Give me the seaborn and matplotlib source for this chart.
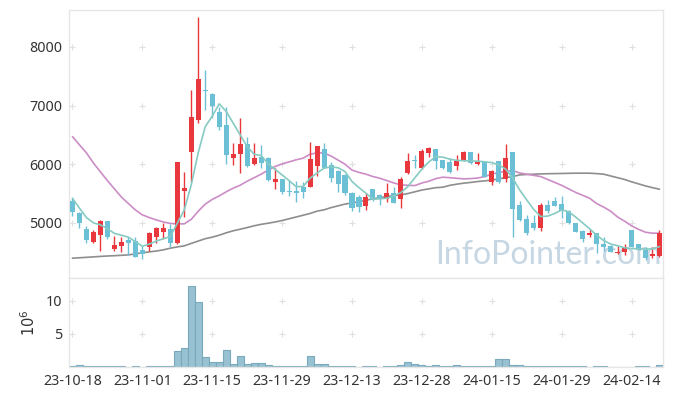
import numpy as np
import pandas as pd
import seaborn as sns
import matplotlib.pyplot as plt

# daily candles, 23-10-18 .. 24-02-20 (85 trading days)
opens = [5375, 5176, 4898, 4680, 4800, 5034, 4557, 4613, 4716, 4693,
         4534, 4596, 4767, 4852, 4892, 4654, 5551, 6216, 6756, 7262,
         7199, 6893, 6671, 6114, 6171, 6342, 6006, 6131, 6108, 5704,
         5750, 5540, 5545, 5619, 5619, 5977, 6262, 5989, 5887, 5818,
         5517, 5438, 5295, 5574, 5477, 5404, 5506, 5404, 5847, 6057,
         5932, 6199, 6256, 6074, 6035, 5977, 6062, 6211, 6006, 6040,
         5690, 6052, 5750, 6211, 5307, 5068, 4994, 4909, 5307, 5375,
         5324, 5210, 4994, 4864, 4790, 4824, 4647, 4608, 4483, 4500,
         4881, 4637, 4540, 4443, 4443]
highs = [5425, 5193, 4950, 4870, 5046, 5040, 4784, 4767, 4761, 4767,
         4608, 4847, 4937, 4994, 4983, 6040, 5875, 7268, 8507, 7609,
         7210, 6983, 6972, 6359, 6785, 6461, 6359, 6325, 6120, 5932,
         5755, 5733, 5716, 5705, 6376, 6313, 6370, 6045, 5900, 5830,
         5520, 5477, 5506, 5580, 5500, 5677, 5619, 5790, 6199, 6160,
         6262, 6290, 6260, 6080, 6114, 6159, 6220, 6215, 6188, 6045,
         5904, 6055, 6347, 6215, 5375, 5136, 5136, 5346, 5392, 5448,
         5465, 5215, 5000, 4875, 4892, 4830, 4756, 4615, 4600, 4642,
         4885, 4640, 4596, 4596, 4870]
lows = [5120, 4915, 4654, 4659, 4523, 4727, 4523, 4500, 4454, 4410,
        4386, 4523, 4654, 4722, 4596, 4640, 5108, 5705, 6710, 6927,
        6785, 6586, 6006, 5989, 5858, 5960, 5989, 5932, 5720, 5574,
        5500, 5460, 5358, 5421, 5610, 5807, 5930, 5705, 5534, 5470,
        5210, 5193, 5222, 5380, 5307, 5363, 5340, 5250, 5840, 5932,
        5920, 6131, 5915, 5920, 5847, 5904, 6055, 6006, 5990, 5785,
        5648, 5680, 5705, 4756, 5040, 4796, 4881, 4869, 5165, 5280,
        5080, 4985, 4845, 4681, 4756, 4494, 4528, 4495, 4475, 4454,
        4590, 4535, 4369, 4398, 4426]
closes = [5180, 4995, 4710, 4846, 5034, 4767, 4620, 4676, 4665, 4426,
          4477, 4824, 4909, 4915, 4654, 6035, 5591, 6802, 7450, 7250,
          7000, 6631, 6160, 6176, 6342, 5977, 6108, 6018, 5733, 5750,
          5523, 5528, 5517, 5523, 6086, 6313, 5943, 5773, 5665, 5506,
          5250, 5278, 5438, 5392, 5404, 5506, 5346, 5745, 6052, 6047,
          6228, 6273, 6062, 5932, 5875, 6057, 6211, 6028, 6045, 5790,
          5885, 5700, 6110, 5239, 5051, 4835, 4909, 5307, 5210, 5290,
          5210, 4994, 4852, 4727, 4824, 4637, 4596, 4500, 4511, 4586,
          4596, 4540, 4409, 4466, 4835]

ma5 = [5421, 5250, 5090, 5000, 4966, 4900, 4820, 4790, 4756, 4680,
       4600, 4640, 4690, 4730, 4767, 4994, 5220, 5650, 6200, 6640,
       6820, 7029, 6900, 6700, 6500, 6300, 6170, 6148, 6006, 5910,
       5818, 5720, 5619, 5619, 5762, 5850, 5932, 5955, 5940, 5875,
       5705, 5600, 5506, 5404, 5410, 5421, 5460, 5517, 5619, 5770,
       5915, 6040, 6131, 6120, 6086, 6065, 6060, 6055, 6052, 6040,
       6028, 5990, 5915, 5762, 5560, 5392, 5230, 5108, 5115, 5160,
       5222, 5190, 5100, 5000, 4900, 4790, 4700, 4640, 4610, 4575,
       4562, 4557, 4555, 4555, 4596]
ma20 = [6471, 6330, 6193, 6020, 5870, 5720, 5580, 5440, 5330, 5220,
        5136, 5090, 5050, 5015, 4990, 4983, 4983, 5060, 5200, 5320,
        5400, 5460, 5530, 5591, 5642, 5710, 5770, 5830, 5900, 5960,
        6006, 6040, 6075, 6103, 6170, 6195, 6190, 6140, 6070, 6000,
        5900, 5860, 5830, 5790, 5760, 5720, 5680, 5648, 5640, 5636,
        5680, 5710, 5755, 5779, 5770, 5760, 5750, 5755, 5765, 5790,
        5830, 5860, 5880, 5892, 5850, 5830, 5810, 5790, 5740, 5690,
        5640, 5580, 5520, 5470, 5420, 5330, 5270, 5200, 5100, 5030,
        4950, 4890, 4840, 4824, 4824]
ma60 = [4398, 4405, 4412, 4420, 4428, 4435, 4440, 4447, 4454, 4470,
        4490, 4505, 4520, 4540, 4568, 4590, 4608, 4650, 4690, 4730,
        4756, 4790, 4830, 4865, 4892, 4920, 4950, 4975, 4994, 5015,
        5040, 5070, 5100, 5130, 5160, 5200, 5222, 5260, 5290, 5320,
        5340, 5363, 5385, 5410, 5430, 5450, 5465, 5477, 5500, 5530,
        5560, 5580, 5600, 5608, 5640, 5660, 5677, 5690, 5705, 5716,
        5730, 5750, 5773, 5790, 5818, 5825, 5830, 5835, 5838, 5840,
        5842, 5845, 5847, 5847, 5847, 5840, 5830, 5800, 5770, 5740,
        5700, 5665, 5630, 5600, 5574]

# volume in millions
volume = [0.15, 0.35, 0.12, 0.12, 0.12, 0.12, 0.12, 0.12, 0.02, 0.12,
          0.02, 0.12, 0.12, 0.12, 0.12, 2.45, 2.85, 12.2, 9.75, 1.5,
          0.75, 0.75, 2.55, 0.45, 1.65, 0.45, 0.6, 0.6, 0.27, 0.12,
          0.12, 0.12, 0.12, 0.12, 1.65, 0.45, 0.45, 0.12, 0.12, 0.12,
          0.12, 0.02, 0.12, 0.12, 0.02, 0.12, 0.12, 0.3, 0.8, 0.45,
          0.3, 0.15, 0.3, 0.15, 0.15, 0.3, 0.15, 0.15, 0.15, 0.15,
          0.15, 1.2, 1.2, 0.35, 0.35, 0.12, 0.12, 0.12, 0.12, 0.12,
          0.12, 0.12, 0.12, 0.12, 0.02, 0.12, 0.12, 0.02, 0.02, 0.02,
          0.02, 0.12, 0.12, 0.02, 0.3]

date_ticks = ['23-10-18', '23-11-01', '23-11-15', '23-11-29', '23-12-13',
              '23-12-28', '24-01-15', '24-01-29', '24-02-14']

df = pd.DataFrame({'open': opens, 'high': highs, 'low': lows, 'close': closes,
                   'ma5': ma5, 'ma20': ma20, 'ma60': ma60, 'vol': volume})
df['idx'] = np.arange(len(df))

sns.set_theme(style='white')
plt.rcParams['font.family'] = ['Noto Sans', 'DejaVu Sans']

UP = '#e8383d'
DOWN = '#6cc0d6'
GRID = '#e0e0e0'

fig = plt.figure(figsize=(6.73, 3.96), dpi=100)
ax = fig.add_axes([0.1025, 0.298, 0.8826, 0.6768])
axv = fig.add_axes([0.1025, 0.0732, 0.8826, 0.2248])

# grid as little crosses at tick intersections
xt = list(range(0, 81, 10))
for a, yt in ((ax, [5000, 6000, 7000, 8000]), (axv, [5, 10])):
    gx, gy = np.meshgrid(xt, yt)
    a.plot(gx.ravel(), gy.ravel(), ls='none', marker='+', ms=4.5, mew=0.8,
           color=GRID, zorder=0)

ax.text(0.807, 0.085, 'InfoPointer.com', transform=ax.transAxes, ha='center',
        va='center', fontsize=23, color='#c6d7e3', family='Lato', zorder=0.5)

# moving averages
sns.lineplot(data=df, x='idx', y='ma60', ax=ax, color='#8e8e8e', lw=1.2, zorder=2)
sns.lineplot(data=df, x='idx', y='ma20', ax=ax, color='#cc8cc6', lw=1.2, zorder=2)
sns.lineplot(data=df, x='idx', y='ma5', ax=ax, color='#86cbc3', lw=1.2, zorder=4)

# candles
up = df['close'] >= df['open']
cols = np.where(up, UP, DOWN)
body_lo = np.minimum(df['open'], df['close'])
body_h = np.maximum((df['close'] - df['open']).abs(), 18)
ax.vlines(df['idx'], df['low'], df['high'], colors=cols, lw=1, zorder=3)
ax.bar(df['idx'], body_h, bottom=body_lo, width=0.72, color=cols, lw=0, zorder=3)

ax.set_xlim(-0.5, 84.5)
ax.set_ylim(4060, 8630)
ax.set_yticks([5000, 6000, 7000, 8000])
ax.set_xticks([])
ax.set_xlabel('')
ax.set_ylabel('')

# volume
sns.barplot(data=df, x='idx', y='vol', ax=axv, color='#98c1d1', width=1.0,
            edgecolor='#7aa8bc', linewidth=0.8, saturation=1, zorder=2)
axv.set_xlim(-0.5, 84.5)
axv.set_ylim(0, 13.4)
axv.set_yticks([5, 10])
axv.set_xticks(xt)
axv.set_xticklabels(date_ticks)
axv.set_xlabel('')
axv.set_ylabel(r'$10^6$', fontsize=10.5, color='#333333', labelpad=5)

for a in (ax, axv):
    a.tick_params(length=0, labelsize=10.3, colors='#333333', pad=5)
    for s in a.spines.values():
        s.set_color('#e6e6e6')
        s.set_linewidth(1)

fig.savefig('out.png', dpi=100)
